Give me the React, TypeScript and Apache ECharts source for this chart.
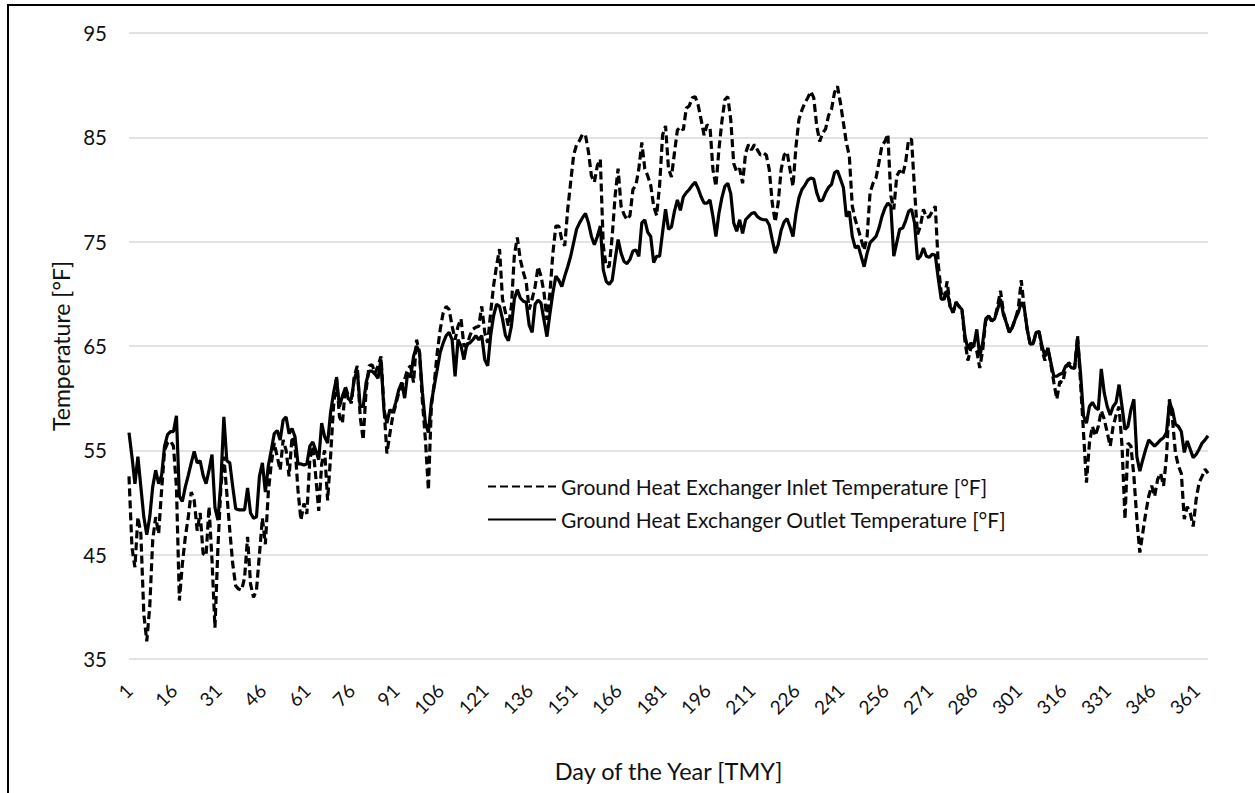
import { useEffect, useRef } from "react";
import * as echarts from "echarts";

const dayLabels: string[] = Array.from({ length: 365 }, (_, i) => String(i + 1));

const yTicks = { min: 35, max: 95, interval: 10 };

const seriesNames = [
  "Ground Heat Exchanger Inlet Temperature [°F]",
  "Ground Heat Exchanger Outlet Temperature [°F]",
];

const inletTemp: number[] = [
  52.5, 45.7, 43.8, 48.6, 47.0, 39.3, 36.7, 40.0, 46.4, 48.6,
  47.0, 51.2, 55.0, 55.7, 55.9, 55.4, 51.5, 40.6, 44.1, 46.7,
  48.6, 51.0, 50.2, 47.3, 49.0, 45.1, 44.9, 49.6, 44.5, 38.0,
  45.7, 51.5, 54.4, 50.9, 47.3, 44.1, 42.0, 41.7, 41.6, 42.8,
  46.7, 42.2, 40.9, 41.6, 45.0, 48.5, 46.0, 51.0, 53.7, 55.7,
  54.4, 53.1, 56.0, 55.0, 52.5, 56.3, 55.4, 51.2, 48.3, 49.9,
  48.9, 54.1, 55.4, 52.5, 49.2, 53.7, 55.0, 50.2, 54.4, 59.2,
  62.1, 58.2, 57.6, 61.1, 60.2, 59.5, 62.1, 63.1, 58.2, 56.0,
  60.8, 63.1, 63.2, 62.4, 63.1, 64.0, 59.2, 54.7, 56.6, 58.3,
  59.4, 60.5, 61.2, 61.8, 62.8, 63.1, 61.5, 65.6, 64.4, 59.6,
  56.0, 51.2, 59.2, 61.5, 64.4, 66.6, 68.2, 68.8, 68.5, 66.9,
  65.6, 66.9, 67.6, 65.0, 65.0, 66.0, 66.6, 66.8, 66.9, 68.8,
  66.3, 65.3, 68.2, 70.8, 72.7, 74.3, 69.5, 68.2, 66.9, 68.8,
  73.7, 75.4, 73.3, 72.1, 71.1, 68.5, 69.5, 70.7, 72.6, 71.7,
  70.1, 67.5, 70.1, 73.9, 76.5, 76.5, 75.2, 74.6, 78.1, 80.7,
  83.3, 84.3, 84.7, 85.3, 85.2, 83.6, 81.3, 80.7, 82.3, 82.9,
  74.6, 72.6, 72.6, 75.5, 79.4, 82.0, 78.4, 77.6, 77.1, 77.5,
  80.0, 80.4, 82.0, 84.5, 82.0, 81.3, 80.4, 78.4, 77.5, 80.4,
  85.2, 86.1, 82.0, 81.2, 83.5, 85.7, 86.0, 85.7, 87.8, 88.0,
  88.8, 88.9, 88.1, 86.7, 85.2, 86.2, 86.0, 81.9, 80.3, 83.8,
  86.5, 88.6, 88.9, 86.7, 82.5, 81.7, 82.0, 80.6, 83.5, 84.3,
  83.8, 84.3, 83.8, 83.3, 83.5, 83.3, 81.9, 78.7, 76.9, 78.7,
  81.9, 83.3, 83.6, 81.9, 80.3, 84.1, 86.7, 87.6, 88.3, 88.8,
  89.4, 88.8, 86.1, 84.6, 85.4, 85.8, 87.1, 87.7, 89.3, 89.9,
  88.3, 86.4, 84.5, 83.2, 78.4, 77.1, 76.2, 75.2, 74.2, 75.5,
  79.7, 80.6, 81.1, 82.6, 84.2, 84.6, 85.3, 79.4, 78.1, 81.3,
  81.8, 81.4, 82.6, 84.8, 84.8, 80.0, 75.7, 76.5, 78.1, 77.3,
  77.4, 77.9, 78.4, 72.9, 70.1, 69.5, 71.2, 68.8, 68.2, 69.2,
  68.8, 68.5, 65.5, 63.6, 64.8, 65.0, 64.5, 62.9, 64.6, 67.4,
  67.9, 67.4, 67.6, 68.8, 70.3, 68.2, 67.2, 66.3, 66.8, 67.6,
  68.6, 71.3, 68.7, 66.6, 65.2, 65.2, 66.3, 66.4, 64.6, 63.6,
  64.8, 63.2, 61.5, 59.9, 61.6, 61.5, 62.9, 63.4, 63.1, 62.8,
  66.0, 61.5, 56.7, 51.9, 55.7, 57.3, 56.4, 57.3, 58.8, 58.0,
  56.7, 55.4, 57.3, 58.4, 59.2, 55.4, 48.4, 55.7, 55.4, 52.5,
  48.4, 45.2, 47.1, 49.0, 50.6, 51.6, 50.6, 52.2, 52.8, 51.6,
  54.4, 59.9, 58.0, 54.8, 53.5, 52.8, 48.4, 49.6, 49.0, 47.7,
  50.3, 51.9, 52.5, 53.2, 52.8,
];

const outletTemp: number[] = [
  56.7, 54.4, 51.8, 54.4, 51.5, 48.6, 46.9, 48.6, 51.5, 53.1,
  51.8, 52.6, 55.4, 56.5, 56.8, 56.8, 58.3, 50.6, 50.1, 51.5,
  52.6, 53.8, 54.9, 53.8, 54.0, 52.6, 51.8, 53.1, 54.6, 49.5,
  48.3, 52.0, 58.2, 54.0, 53.8, 51.5, 49.4, 49.3, 49.3, 49.3,
  51.4, 49.0, 48.5, 48.6, 52.5, 53.8, 51.0, 53.5, 55.0, 56.6,
  56.9, 56.0, 57.9, 58.2, 56.6, 57.1, 56.3, 53.7, 53.7, 53.6,
  53.7, 55.4, 55.8, 55.0, 54.1, 57.6, 56.3, 55.7, 58.6, 60.5,
  61.9, 59.2, 60.2, 61.0, 59.9, 59.9, 61.8, 62.7, 59.2, 59.2,
  61.5, 62.6, 62.6, 62.3, 61.9, 63.7, 58.9, 57.6, 58.9, 58.6,
  59.6, 60.8, 61.5, 60.0, 62.4, 62.0, 64.0, 65.0, 64.4, 60.5,
  57.6, 56.7, 59.6, 61.2, 62.8, 64.4, 65.3, 66.0, 66.3, 65.6,
  62.1, 65.6, 65.0, 63.7, 65.2, 65.3, 65.6, 66.0, 65.6, 66.0,
  63.7, 63.1, 66.0, 67.9, 69.0, 68.8, 67.6, 66.0, 65.5, 66.9,
  69.5, 70.4, 69.6, 69.3, 69.2, 67.0, 66.3, 69.0, 69.4, 69.1,
  67.5, 65.9, 68.1, 70.1, 71.7, 71.3, 70.7, 71.7, 72.6, 73.6,
  74.9, 76.2, 76.8, 77.3, 77.7, 76.8, 75.5, 74.7, 75.5, 76.5,
  72.3, 71.2, 70.9, 71.3, 73.3, 75.2, 73.9, 73.1, 72.9, 73.3,
  74.1, 74.2, 73.6, 76.8, 77.1, 75.9, 75.5, 73.0, 73.6, 73.6,
  75.9, 78.1, 76.2, 76.4, 77.9, 79.0, 78.0, 79.3, 79.7, 80.0,
  80.4, 80.7, 80.1, 79.3, 78.7, 78.7, 79.0, 77.4, 75.5, 77.7,
  79.2, 80.3, 80.6, 79.6, 76.8, 76.0, 77.1, 75.8, 77.1, 77.4,
  77.7, 77.8, 77.4, 77.2, 77.1, 77.1, 76.6, 75.2, 73.9, 74.7,
  76.1, 76.9, 77.2, 76.4, 75.5, 77.7, 79.2, 80.0, 80.4, 80.9,
  81.1, 81.0, 79.7, 78.9, 79.0, 79.7, 80.2, 80.5, 81.6, 81.8,
  81.0, 80.2, 77.4, 77.9, 75.5, 74.4, 74.6, 73.6, 72.6, 73.9,
  74.9, 75.2, 75.5, 76.3, 77.4, 78.2, 78.7, 78.4, 73.6, 74.9,
  76.2, 76.3, 77.0, 77.9, 78.1, 76.8, 73.3, 73.6, 74.4, 73.6,
  73.5, 73.8, 73.7, 71.5, 69.5, 69.5, 70.3, 68.8, 68.2, 69.2,
  68.8, 68.5, 66.0, 64.7, 65.3, 65.0, 66.6, 64.0, 65.3, 67.6,
  67.9, 67.4, 67.6, 68.5, 69.5, 68.0, 67.2, 66.3, 66.8, 67.6,
  68.2, 69.2, 68.7, 66.6, 65.2, 65.2, 66.3, 66.4, 65.0, 64.0,
  64.8, 63.4, 62.1, 62.1, 62.3, 62.4, 63.1, 63.2, 62.9, 62.9,
  65.6, 62.4, 58.3, 57.6, 59.2, 59.6, 59.1, 58.9, 62.8, 60.5,
  59.2, 58.4, 59.2, 59.6, 61.3, 59.2, 57.0, 57.3, 58.9, 59.9,
  54.4, 53.0, 54.1, 55.1, 56.0, 55.7, 55.4, 55.7, 56.0, 56.2,
  56.7, 59.6, 58.9, 57.5, 57.3, 56.8, 54.8, 55.9, 55.1, 54.3,
  54.6, 55.1, 55.7, 56.0, 56.4,
];

const FONT = "Lato";
const TEXT = "#111";

export default function App() {
  const ref = useRef<HTMLDivElement>(null);
  useEffect(() => {
    if (!ref.current) return;
    const chart = echarts.init(ref.current, undefined, { renderer: "svg" });
    chart.setOption({
      animation: false,
      backgroundColor: "#fff",
      textStyle: { fontFamily: FONT },
      grid: { left: 129, right: 47, top: 33, bottom: 134 },
      legend: {
        orient: "vertical",
        left: 482,
        top: 471,
        itemWidth: 68,
        itemHeight: 14,
        itemGap: 12,
        itemStyle: { opacity: 0 },
        textStyle: { fontFamily: FONT, fontSize: 21, color: TEXT },
        data: seriesNames,
      },
      graphic: [
        {
          type: "rect",
          shape: { x: 8, y: 5, width: 1300, height: 900 },
          style: { fill: "none", stroke: "#000", lineWidth: 2 },
          silent: true,
        },
      ],
      xAxis: {
        type: "category",
        data: dayLabels,
        boundaryGap: false,
        axisLine: { show: false },
        axisTick: { show: false },
        splitLine: { show: false },
        axisLabel: {
          interval: 14,
          rotate: 45,
          fontFamily: FONT,
          fontSize: 19,
          color: TEXT,
          margin: 28,
        },
        name: "Day of the Year [TMY]",
        nameLocation: "middle",
        nameGap: 100,
        nameTextStyle: { fontFamily: FONT, fontSize: 23.5, color: TEXT },
      },
      yAxis: {
        type: "value",
        min: yTicks.min,
        max: yTicks.max,
        interval: yTicks.interval,
        axisLine: { show: false },
        axisTick: { show: false },
        splitLine: { lineStyle: { color: "#d9d9d9", width: 1.5 } },
        axisLabel: { fontFamily: FONT, fontSize: 20.5, color: TEXT, margin: 22 },
        name: "Temperature [°F]",
        nameLocation: "middle",
        nameRotate: 90,
        nameGap: 57,
        nameTextStyle: { fontFamily: FONT, fontSize: 23, color: TEXT },
      },
      series: [
        {
          name: seriesNames[0],
          type: "line",
          data: inletTemp,
          symbol: "none",
          showSymbol: false,
          silent: true,
          lineStyle: { color: "#000", width: 3.2, type: [8, 4] },
          itemStyle: { color: "#000" },
          z: 2,
        },
        {
          name: seriesNames[1],
          type: "line",
          data: outletTemp,
          symbol: "none",
          showSymbol: false,
          silent: true,
          lineStyle: { color: "#000", width: 3.2, type: "solid" },
          itemStyle: { color: "#000" },
          z: 3,
        },
      ],
    });
    return () => chart.dispose();
  }, []);
  return (
    <div
      ref={ref}
      style={{ position: "absolute", left: 0, top: 0, width: 1255, height: 793 }}
    />
  );
}
